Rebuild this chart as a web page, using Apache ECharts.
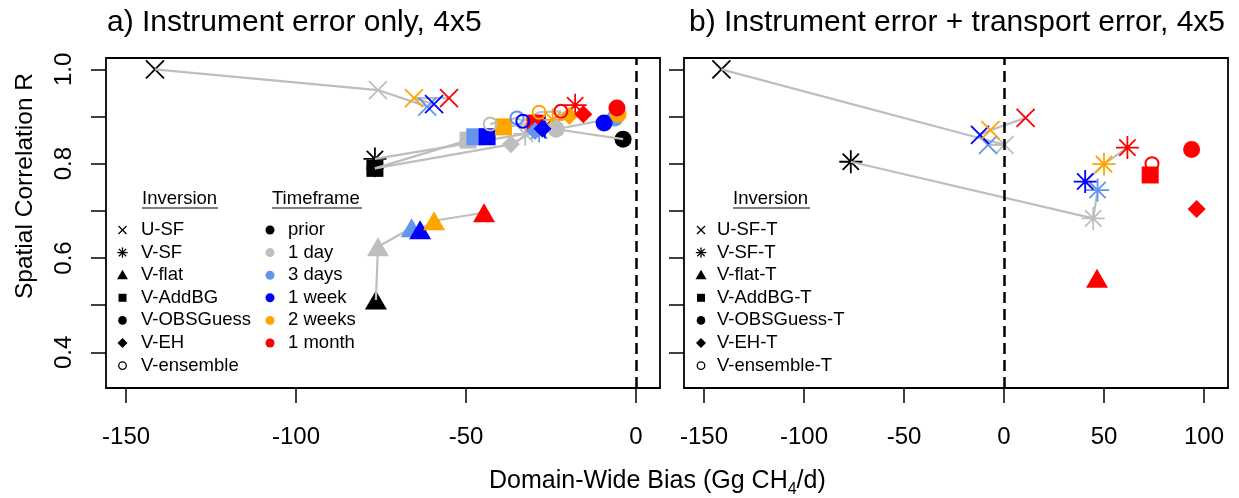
<!DOCTYPE html>
<html><head><meta charset="utf-8">
<script src="https://cdn.jsdelivr.net/npm/echarts@6/dist/echarts.min.js"></script>
<style>html,body{margin:0;padding:0;background:#fff}#c{width:1239px;height:498px}</style>
</head><body><div id="c"></div>
<script>
// ---------- DATA ----------
const timeframes = ['prior', '1 day', '3 days', '1 week', '2 weeks', '1 month'];
const inversionsA = ['U-SF', 'V-SF', 'V-flat', 'V-AddBG', 'V-OBSGuess', 'V-EH', 'V-ensemble'];
const inversionsB = ['U-SF-T', 'V-SF-T', 'V-flat-T', 'V-AddBG-T', 'V-OBSGuess-T', 'V-EH-T', 'V-ensemble-T'];
const ticksXA = [-150, -100, -50, 0];
const ticksXB = [-150, -100, -50, 0, 50, 100];
const ticksY = [0.4, 0.5, 0.6, 0.7, 0.8, 0.9, 1.0];
const labelsY = [0.4, 0.6, 0.8, 1.0];

// Panel a (instrument error only): bias per timeframe, correlation per timeframe
const biasA_USF   = [-141.5, -75.9, -61.4, -59.4, -65.3, -55.0];
const corrA_USF   = [1.000, 0.956, 0.921, 0.926, 0.939, 0.939];
const biasA_VSF   = [-76.8, -32.6, -28.5, -26.8, -24.5, -17.9];
const corrA_VSF   = [0.810, 0.863, 0.870, 0.878, 0.893, 0.924];
const biasA_Vflat = [-76.5, -75.9, -66.0, -63.5, -59.4, -44.7];
const corrA_Vflat = [0.511, 0.624, 0.664, 0.660, 0.679, 0.696];
const biasA_VAddBG = [-76.8, -49.4, -47.4, -43.8, -39.0, -29.7];
const corrA_VAddBG = [0.790, 0.850, 0.857, 0.857, 0.878, 0.886];
const biasA_VOBS  = [-3.8, -23.5, -6.2, -9.4, -5.3, -5.6];
const corrA_VOBS  = [0.852, 0.873, 0.897, 0.886, 0.905, 0.918];
const biasA_VEH   = [-76.8, -36.8, -29.7, -27.5, -19.6, -15.5];
const corrA_VEH   = [0.790, 0.841, 0.869, 0.874, 0.901, 0.905];
const biasA_Vens  = [null, -42.9, -35.0, -33.3, -28.5, -22.1];
const corrA_Vens  = [null, 0.884, 0.897, 0.890, 0.909, 0.911];

// Panel b (instrument + transport error)
const biasB_USF   = [-141.3, 0.3, -8.0, -12.0, -6.8, 10.8];
const corrB_USF   = [1.000, 0.840, 0.840, 0.861, 0.871, 0.897];
const biasB_VSF   = [-76.6, 44.6, 46.8, 40.6, 50.0, 61.7];
const corrB_VSF   = [0.804, 0.684, 0.744, 0.762, 0.799, 0.834];
const biasB_Vflat = [null, null, null, null, null, 46.5];
const corrB_Vflat = [null, null, null, null, null, 0.557];
const biasB_VAddBG = [null, null, null, null, null, 73.1];
const corrB_VAddBG = [null, null, null, null, null, 0.776];
const biasB_VOBS  = [null, null, null, null, null, 93.8];
const corrB_VOBS  = [null, null, null, null, null, 0.830];
const biasB_VEH   = [null, null, null, null, null, 96.3];
const corrB_VEH   = [null, null, null, null, null, 0.704];
const biasB_Vens  = [null, null, null, null, null, 74.0];
const corrB_Vens  = [null, null, null, null, null, 0.800];

// ---------- STYLE ----------
const FONT = 'Liberation Sans, Arial, sans-serif';
const tfColors = ['#000000', '#BEBEBE', '#6495ED', '#0000FF', '#FFA500', '#FF0000'];
const LINE_GRAY = '#BEBEBE';
const P_X = 'path://M0,0L10,10M10,0L0,10';
const P_AST = 'path://M5,0L5,10M0,5L10,5M1.46,1.46L8.54,8.54M8.54,1.46L1.46,8.54';
const symSpec = [
  {symbol: P_X, size: 18, stroke: true, bw: 1.8},
  {symbol: P_AST, size: 23, stroke: true, bw: 1.8},
  {symbol: 'triangle', size: [22, 19], stroke: false},
  {symbol: 'rect', size: 17, stroke: false},
  {symbol: 'circle', size: 17, stroke: false},
  {symbol: 'diamond', size: 18, stroke: false},
  {symbol: 'circle', size: 13, stroke: true, bw: 2}
];

const panelA = [[biasA_USF, corrA_USF], [biasA_VSF, corrA_VSF], [biasA_Vflat, corrA_Vflat],
  [biasA_VAddBG, corrA_VAddBG], [biasA_VOBS, corrA_VOBS], [biasA_VEH, corrA_VEH], [biasA_Vens, corrA_Vens]];
const panelB = [[biasB_USF, corrB_USF], [biasB_VSF, corrB_VSF], [biasB_Vflat, corrB_Vflat],
  [biasB_VAddBG, corrB_VAddBG], [biasB_VOBS, corrB_VOBS], [biasB_VEH, corrB_VEH], [biasB_Vens, corrB_Vens]];

function buildSeries(panel, idx) {
  const out = [];
  panel.forEach(function (pair, k) {
    const bx = pair[0], cy = pair[1];
    const spec = symSpec[k];
    const pts = [];
    const priorPts = [], colPts = [];
    for (let t = 0; t < timeframes.length; t++) {
      if (bx[t] === null) continue;
      pts.push([bx[t], cy[t]]);
      const st = spec.stroke
        ? {color: 'rgba(0,0,0,0)', borderColor: tfColors[t], borderWidth: spec.bw, opacity: 1}
        : {color: tfColors[t], borderWidth: 0, opacity: 1};
      const d = {value: [bx[t], cy[t]], name: timeframes[t], itemStyle: st};
      (t === 0 ? priorPts : colPts).push(d);
    }
    const lineSeries = {
      type: 'line', xAxisIndex: idx, yAxisIndex: idx, data: pts, symbol: 'none',
      lineStyle: {color: LINE_GRAY, width: 2.2}, z: 3, silent: true, animation: false
    };
    if (k === 0) {
      lineSeries.markLine = {
        silent: true, symbol: ['none', 'none'], animation: false,
        label: {show: false},
        lineStyle: {type: [11, 6], color: '#000', width: 2.5},
        data: [{xAxis: 0}]
      };
    }
    out.push(lineSeries);
    [[priorPts, 2], [colPts, 4]].forEach(function (g) {
      if (!g[0].length) return;
      out.push({
        type: 'scatter', xAxisIndex: idx, yAxisIndex: idx, name: (idx ? inversionsB : inversionsA)[k],
        data: g[0], symbol: spec.symbol, symbolSize: spec.size, z: g[1], silent: true, animation: false,
        itemStyle: {opacity: 1}
      });
    });
  });
  return out;
}

function xAxisCfg(idx, min, max, ticks) {
  return {
    type: 'value', gridIndex: idx, min: min, max: max, position: 'bottom',
    axisLine: {show: false, onZero: false}, splitLine: {show: false},
    axisTick: {show: true, length: 15, lineStyle: {color: '#000', width: 1.5}, customValues: ticks},
    axisLabel: {customValues: ticks, fontSize: 24, color: '#000', fontFamily: FONT, margin: 37}
  };
}
function yAxisCfg(idx, showLabels) {
  return {
    type: 'value', gridIndex: idx, min: 0.3244, max: 1.024, position: 'left',
    axisLine: {show: false, onZero: false}, splitLine: {show: false},
    axisTick: {show: true, length: 15, lineStyle: {color: '#000', width: 1.5}, customValues: ticksY},
    axisLabel: {show: showLabels, customValues: labelsY, rotate: 90, fontSize: 24, color: '#000', fontFamily: FONT,
      margin: 30, formatter: function (v) { return v.toFixed(1); }}
  };
}

// ---------- LEGEND (graphic) ----------
function legendSym(k, cx, cy) {
  const els = [];
  const s = {stroke: '#000', lineWidth: 1.3};
  if (k === 0) {
    const r = 4;
    els.push({type: 'line', shape: {x1: cx - r, y1: cy - r, x2: cx + r, y2: cy + r}, style: s});
    els.push({type: 'line', shape: {x1: cx + r, y1: cy - r, x2: cx - r, y2: cy + r}, style: s});
  } else if (k === 1) {
    const r = 5.2, d = 3.7;
    els.push({type: 'line', shape: {x1: cx, y1: cy - r, x2: cx, y2: cy + r}, style: s});
    els.push({type: 'line', shape: {x1: cx - r, y1: cy, x2: cx + r, y2: cy}, style: s});
    els.push({type: 'line', shape: {x1: cx - d, y1: cy - d, x2: cx + d, y2: cy + d}, style: s});
    els.push({type: 'line', shape: {x1: cx + d, y1: cy - d, x2: cx - d, y2: cy + d}, style: s});
  } else if (k === 2) {
    els.push({type: 'polygon', shape: {points: [[cx, cy - 5.5], [cx + 5.5, cy + 4], [cx - 5.5, cy + 4]]}, style: {fill: '#000'}});
  } else if (k === 3) {
    els.push({type: 'rect', shape: {x: cx - 4, y: cy - 4, width: 8, height: 8}, style: {fill: '#000'}});
  } else if (k === 4) {
    els.push({type: 'circle', shape: {cx: cx, cy: cy, r: 4.3}, style: {fill: '#000'}});
  } else if (k === 5) {
    els.push({type: 'polygon', shape: {points: [[cx, cy - 5], [cx + 5, cy], [cx, cy + 5], [cx - 5, cy]]}, style: {fill: '#000'}});
  } else {
    els.push({type: 'circle', shape: {cx: cx, cy: cy, r: 3.8}, style: {fill: 'none', stroke: '#000', lineWidth: 1.3}});
  }
  return els;
}
function txt(str, x, y, size, extra) {
  return Object.assign({type: 'text', x: x, y: y, style: {text: str, fontSize: size, fontFamily: FONT, fill: '#000',
    textAlign: 'left', textVerticalAlign: 'middle'}}, extra || {});
}
const LFS = 18.5, ROW0 = 230, DROW = 22.6;
const graphics = [];
graphics.push(txt('Inversion', 142, 199, LFS));
graphics.push({type: 'line', shape: {x1: 142, y1: 208, x2: 218, y2: 208}, style: {stroke: '#000', lineWidth: 1.2}});
graphics.push(txt('Timeframe', 272, 199, LFS));
graphics.push({type: 'line', shape: {x1: 272, y1: 208, x2: 362, y2: 208}, style: {stroke: '#000', lineWidth: 1.2}});
inversionsA.forEach(function (n, k) {
  const y = ROW0 + k * DROW;
  legendSym(k, 122.5, y).forEach(function (e) { graphics.push(e); });
  graphics.push(txt(n, 141, y, LFS));
});
timeframes.forEach(function (n, t) {
  const y = ROW0 + t * DROW;
  graphics.push({type: 'circle', shape: {cx: 270, cy: y, r: 4.5}, style: {fill: tfColors[t]}});
  graphics.push(txt(n, 288, y, LFS));
});
graphics.push(txt('Inversion', 733, 199, LFS));
graphics.push({type: 'line', shape: {x1: 733, y1: 208, x2: 810, y2: 208}, style: {stroke: '#000', lineWidth: 1.2}});
inversionsB.forEach(function (n, k) {
  const y = ROW0 + k * DROW;
  legendSym(k, 701, y).forEach(function (e) { graphics.push(e); });
  graphics.push(txt(n, 717, y, LFS));
});
graphics.push(txt('a) Instrument error only, 4x5', 107, 23, 30));
graphics.push(txt('b) Instrument error + transport error, 4x5', 689, 23, 30));
graphics.push({type: 'text', x: 489, y: 481, style: {
  text: '{n|Domain-Wide Bias (Gg CH}{s|4}{n|/d)}', fontFamily: FONT, fill: '#000', textAlign: 'left', textVerticalAlign: 'middle',
  rich: {n: {fontSize: 25, fontFamily: FONT, lineHeight: 34, verticalAlign: 'middle'},
         s: {fontSize: 16, fontFamily: FONT, lineHeight: 34, verticalAlign: 'bottom'}}}});
graphics.push({type: 'text', x: 25, y: 186, rotation: Math.PI / 2, style: {
  text: 'Spatial Correlation R', fontSize: 24.5, fontFamily: FONT, fill: '#000', textAlign: 'center', textVerticalAlign: 'middle'}});

// ---------- CHART ----------
const chart = echarts.init(document.getElementById('c'), null, {renderer: 'canvas'});
chart.setOption({
  animation: false,
  backgroundColor: '#fff',
  textStyle: {fontFamily: FONT},
  grid: [
    {left: 106, top: 58, width: 554, height: 330, show: true, borderColor: '#000', borderWidth: 1.8, backgroundColor: 'transparent'},
    {left: 684, top: 58, width: 544, height: 330, show: true, borderColor: '#000', borderWidth: 1.8, backgroundColor: 'transparent'}
  ],
  xAxis: [xAxisCfg(0, -155.9, 7.06, ticksXA), xAxisCfg(1, -160, 112, ticksXB)],
  yAxis: [yAxisCfg(0, true), yAxisCfg(1, false)],
  series: buildSeries(panelA, 0).concat(buildSeries(panelB, 1)),
  graphic: graphics
});
</script></body></html>
